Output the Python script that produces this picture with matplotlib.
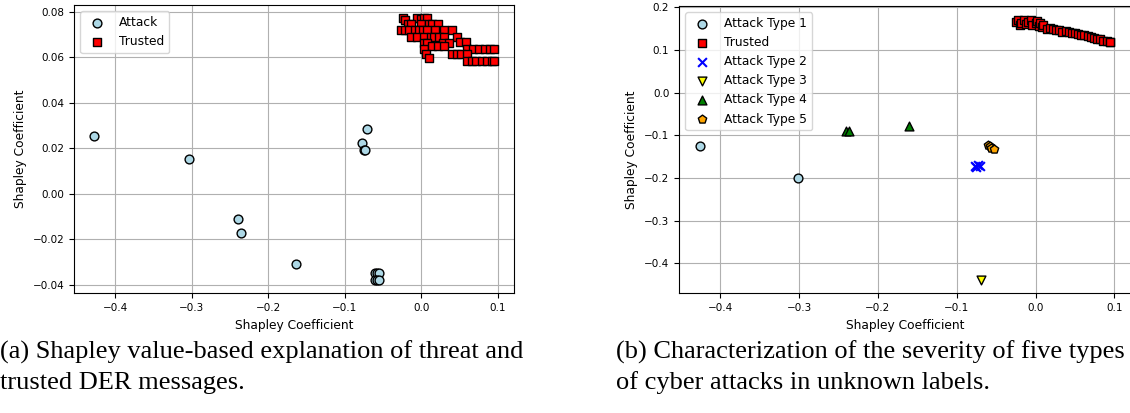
import matplotlib
matplotlib.use("Agg")
import matplotlib.pyplot as plt

# (a) attack / trusted shapley coefficients
attack_x = [-0.4279, -0.3031, -0.2400, -0.2364, -0.1635, -0.0706, -0.0771, -0.0752,
            -0.0735, -0.0600, -0.0585, -0.0560, -0.0600, -0.0585, -0.0560]
attack_y = [0.0252, 0.0154, -0.0110, -0.0173, -0.0308, 0.0283, 0.0224, 0.0190,
            0.0190, -0.0348, -0.0348, -0.0348, -0.0380, -0.0380, -0.0380]

trusted_x = [-0.024, -0.022, -0.006, -0.001, 0.004, 0.008,
             -0.018, -0.013, 0.000, 0.010, 0.014, 0.022,
             -0.026, -0.021, -0.016, -0.008, -0.003, 0.002, 0.008, 0.018, 0.030, 0.040,
             -0.014, -0.006, 0.004, 0.012, 0.016, 0.023, 0.030, 0.046,
             0.003, 0.008, 0.028, 0.036, 0.050, 0.058,
             0.004, 0.014, 0.022, 0.030, 0.060, 0.068, 0.075, 0.083, 0.090, 0.095,
             0.006, 0.040, 0.046, 0.052, 0.060,
             0.010, 0.060, 0.066, 0.072, 0.079, 0.086, 0.092, 0.095]
trusted_y = [0.0772, 0.0765, 0.0772, 0.0770, 0.0772, 0.0772,
             0.0745, 0.0745, 0.0745, 0.0745, 0.0745, 0.0745,
             0.0719, 0.0719, 0.0719, 0.0719, 0.0719, 0.0719, 0.0719, 0.0719, 0.0719, 0.0719,
             0.0688, 0.0688, 0.0688, 0.0688, 0.0688, 0.0688, 0.0688, 0.0688,
             0.0661, 0.0661, 0.0661, 0.0661, 0.0666, 0.0666,
             0.0634, 0.0648, 0.0648, 0.0648, 0.0634, 0.0634, 0.0634, 0.0634, 0.0634, 0.0634,
             0.0612, 0.0612, 0.0612, 0.0612, 0.0612,
             0.0597, 0.0585, 0.0585, 0.0585, 0.0585, 0.0585, 0.0585, 0.0585]

# (b) five attack types
type1_x = [-0.4264, -0.3020]
type1_y = [-0.126, -0.200]
type2_x = [-0.0771, -0.0752, -0.0735, -0.0706]
type2_y = [-0.173, -0.175, -0.171, -0.173]
type3_x = [-0.0693]
type3_y = [-0.439]
type4_x = [-0.2400, -0.2364, -0.1606]
type4_y = [-0.090, -0.089, -0.078]
type5_x = [-0.0600, -0.0585, -0.0560, -0.0530]
type5_y = [-0.124, -0.126, -0.129, -0.132]

trusted2_x = [-0.025, -0.022, -0.020, -0.018, -0.015, -0.012, -0.010, -0.006, -0.004,
              0.000, 0.002, 0.004, 0.006, 0.008, 0.010, 0.014, 0.018, 0.022, 0.026,
              0.030, 0.034, 0.038, 0.042, 0.046, 0.050, 0.054, 0.058, 0.062, 0.066,
              0.070, 0.074, 0.078, 0.082, 0.086, 0.090, 0.094, 0.095]
trusted2_y = [0.166, 0.170, 0.158, 0.163, 0.170, 0.160, 0.166, 0.169, 0.158,
              0.163, 0.167, 0.156, 0.162, 0.153, 0.158, 0.150, 0.152, 0.148, 0.146,
              0.147, 0.143, 0.144, 0.141, 0.140, 0.139, 0.138, 0.136, 0.134, 0.133,
              0.130, 0.129, 0.126, 0.125, 0.122, 0.121, 0.119, 0.118]

TICK_FS = 7.5
LAB_FS = 8.8
fig = plt.figure(figsize=(11.3, 4.13), dpi=100)

ax1 = fig.add_axes([0.0655, 0.290, 0.3894, 0.698])
ax1.scatter(attack_x, attack_y, s=40, c="lightblue", edgecolors="black", linewidths=1,
            label="Attack", zorder=3)
ax1.scatter(trusted_x, trusted_y, s=36, c="red", marker="s", edgecolors="black",
            linewidths=1, label="Trusted", zorder=3)
ax1.set_xlabel("Shapley Coefficient", fontsize=LAB_FS)
ax1.set_ylabel("Shapley Coefficient", fontsize=LAB_FS)
ax1.tick_params(labelsize=TICK_FS)
ax1.grid(True)
ax1.legend(loc="upper left", fontsize=LAB_FS)

ax2 = fig.add_axes([0.6009, 0.290, 0.4000, 0.6955])
ax2.scatter(type1_x, type1_y, s=40, c="lightblue", edgecolors="black", linewidths=1,
            label="Attack Type 1", zorder=3)
ax2.scatter(trusted2_x, trusted2_y, s=36, c="red", marker="s", edgecolors="black",
            linewidths=1, label="Trusted", zorder=3)
ax2.scatter(type2_x, type2_y, s=40, c="blue", marker="x", linewidths=1.5,
            label="Attack Type 2", zorder=3)
ax2.scatter(type3_x, type3_y, s=40, c="yellow", marker="v", edgecolors="black",
            linewidths=1, label="Attack Type 3", zorder=3)
ax2.scatter(type4_x, type4_y, s=40, c="green", marker="^", edgecolors="black",
            linewidths=1, label="Attack Type 4", zorder=3)
ax2.scatter(type5_x, type5_y, s=40, c="orange", marker="p", edgecolors="black",
            linewidths=1, label="Attack Type 5", zorder=3)
ax2.set_ylim(-0.4705, 0.203)
ax2.set_xlabel("Shapley Coefficient", fontsize=LAB_FS)
ax2.set_ylabel("Shapley Coefficient", fontsize=LAB_FS)
ax2.tick_params(labelsize=TICK_FS)
ax2.grid(True)
ax2.legend(loc="upper left", fontsize=LAB_FS)

cap = dict(fontsize=19, family="Liberation Serif", va="center", ha="left")
fig.text(0.0, 1 - 352 / 413, "(a) Shapley value-based explanation of threat and", **cap)
fig.text(0.0, 1 - 383 / 413, "trusted DER messages.", **cap)
fig.text(616 / 1130, 1 - 352 / 413, "(b) Characterization of the severity of five types", **cap)
fig.text(616 / 1130, 1 - 383 / 413, "of cyber attacks in unknown labels.", **cap)

fig.savefig("out.png", dpi=100)
